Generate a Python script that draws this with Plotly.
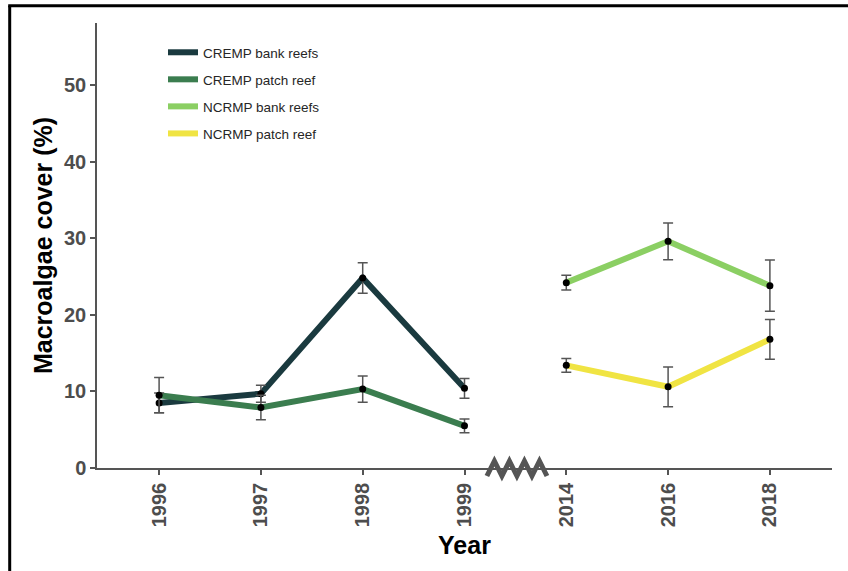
import plotly.graph_objects as go

# Survey years shown on the x axis (gap between 1999 and 2014 marked by a break)
years = ["1996", "1997", "1998", "1999", "2014", "2016", "2018"]

cremp_years = ["1996", "1997", "1998", "1999"]
ncrmp_years = ["2014", "2016", "2018"]

# Mean macroalgae cover (%) and standard errors
cremp_bank = [8.5, 9.7, 24.8, 10.4]
cremp_bank_se = [1.3, 1.1, 2.0, 1.3]
cremp_patch = [9.5, 7.9, 10.3, 5.5]
cremp_patch_se = [2.3, 1.6, 1.7, 0.9]
ncrmp_bank = [24.2, 29.6, 23.8]
ncrmp_bank_se = [0.95, 2.4, 3.35]
ncrmp_patch = [13.4, 10.6, 16.8]
ncrmp_patch_se = [0.9, 2.6, 2.6]

series = [
    ("CREMP bank reefs", cremp_years, cremp_bank, cremp_bank_se, "#1a3a3f"),
    ("CREMP patch reef", cremp_years, cremp_patch, cremp_patch_se, "#3b7d4f"),
    ("NCRMP bank reefs", ncrmp_years, ncrmp_bank, ncrmp_bank_se, "#8bcf63"),
    ("NCRMP patch reef", ncrmp_years, ncrmp_patch, ncrmp_patch_se, "#f0e443"),
]

FONT = "Liberation Sans, Arial, sans-serif"
AXIS_GREY = "#555555"
TICK_GREY = "#4d4d4d"

fig = go.Figure()

for name, xs, ys, se, color in series:
    fig.add_trace(go.Scatter(
        x=xs, y=ys, mode="lines", name=name, legendgroup=name,
        line=dict(color=color, width=6),
    ))

for name, xs, ys, se, color in series:
    fig.add_trace(go.Scatter(
        x=xs, y=ys, mode="markers", showlegend=False, legendgroup=name,
        marker=dict(color="black", size=7),
        error_y=dict(type="data", array=se, visible=True,
                     color=AXIS_GREY, thickness=1.5, width=5),
    ))

X_RANGE = [-0.61, 6.61]
Y_RANGE = [0, 58.1]

# Plot area in pixels (used to place decorations in paper coordinates)
L, R, T, B = 97, 832, 23, 468
W, H = R - L, B - T


def px_to_paper_x(px):
    return (px - L) / W


def px_to_paper_y(py):
    return (B - py) / H


def cat_to_paper_x(pos):
    return (pos - X_RANGE[0]) / (X_RANGE[1] - X_RANGE[0])


# Zigzag axis break between 1999 and 2014
i99 = years.index("1999")
i14 = years.index("2014")
zx0 = cat_to_paper_x(i99 + 0.22)
zx1 = cat_to_paper_x(i14 - 0.19)
n_seg = 8
zy_lo = px_to_paper_y(476)
zy_hi = px_to_paper_y(461)
pts = []
for k in range(n_seg + 1):
    xk = zx0 + (zx1 - zx0) * k / n_seg
    yk = zy_lo if k % 2 == 0 else zy_hi
    pts.append((xk, yk))
path = "M " + " L ".join(f"{x:.5f},{y:.5f}" for x, y in pts)

shapes = [
    dict(type="path", path=path, xref="paper", yref="paper",
         line=dict(color=AXIS_GREY, width=5), layer="above"),
    # outer frame around the figure
    dict(type="line", xref="paper", yref="paper",
         x0=px_to_paper_x(9.7), x1=px_to_paper_x(9.7),
         y0=px_to_paper_y(5.7), y1=px_to_paper_y(700),
         line=dict(color="black", width=3)),
    dict(type="line", xref="paper", yref="paper",
         x0=px_to_paper_x(8.2), x1=px_to_paper_x(1000),
         y0=px_to_paper_y(5.7), y1=px_to_paper_y(5.7),
         line=dict(color="black", width=3)),
]

fig.update_layout(
    width=848, height=571,
    margin=dict(l=L, r=848 - R, t=T, b=571 - B),
    paper_bgcolor="white", plot_bgcolor="white",
    font=dict(family=FONT),
    shapes=shapes,
    legend=dict(
        x=px_to_paper_x(163), y=px_to_paper_y(37),
        xanchor="left", yanchor="top",
        font=dict(family=FONT, size=13.5, color="#262626"),
        tracegroupgap=6.5, bgcolor="rgba(0,0,0,0)",
    ),
    xaxis=dict(
        type="category", categoryorder="array", categoryarray=years,
        range=X_RANGE, showline=True, linecolor=AXIS_GREY, linewidth=1.5,
        ticks="outside", ticklen=5, tickcolor=AXIS_GREY, tickwidth=1.5,
        tickangle=-90, showgrid=False, zeroline=False,
        tickfont=dict(family=FONT, size=20, color=TICK_GREY, weight="bold"),
        title=dict(text="Year", standoff=10,
                   font=dict(family=FONT, size=25, color="black", weight="bold")),
    ),
    yaxis=dict(
        range=Y_RANGE, tickvals=[0, 10, 20, 30, 40, 50],
        showline=True, linecolor=AXIS_GREY, linewidth=1.5,
        ticks="outside", ticklen=5, tickcolor=AXIS_GREY, tickwidth=1.5,
        showgrid=False, zeroline=False,
        tickfont=dict(family=FONT, size=20, color=TICK_GREY, weight="bold"),
        title=dict(text="Macroalgae cover (%)", standoff=4,
                   font=dict(family=FONT, size=25, color="black", weight="bold")),
    ),
)

fig.write_html("out.html")
